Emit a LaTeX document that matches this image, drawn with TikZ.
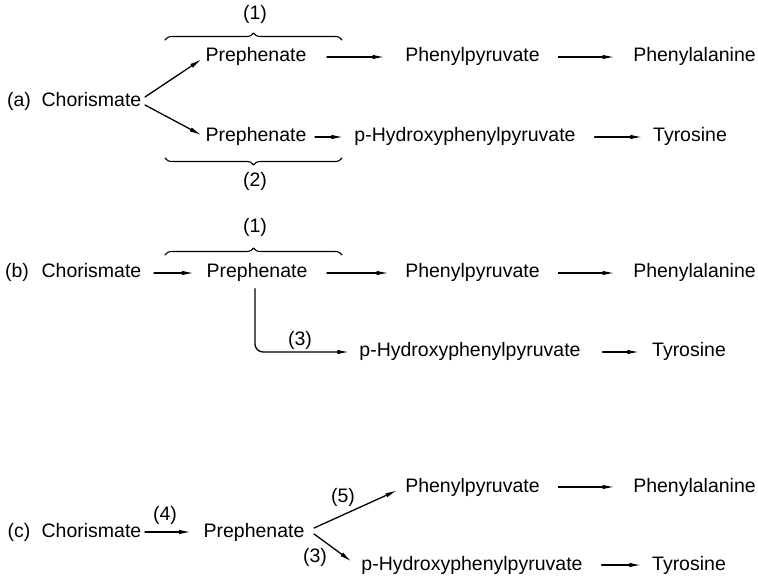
\documentclass[tikz,border=0pt]{standalone}
\usepackage{fontspec}
\setmainfont{Liberation Sans}
\usetikzlibrary{arrows.meta,decorations.pathreplacing}

\begin{document}
\begin{tikzpicture}[x=1pt,y=-1pt,>={Latex[length=12pt,width=4.5pt]},line join=round,line cap=round,line width=1.3pt,
	every node/.style={inner sep=0pt,text height=14pt,text depth=4pt,font=\fontsize{19.5}{23}\selectfont},
	chor/.style={minimum width=97pt},
	preph/.style={minimum width=98pt},
	ppyr/.style={minimum width=129pt},
	phe/.style={minimum width=113pt},
	hppyr/.style={minimum width=230pt},
	tyr/.style={minimum width=74pt},
	brc/.style={decorate,decoration={brace,amplitude=7pt},line width=1.1pt}]
	\useasboundingbox (0,0) rectangle (758,577);
	% (a)
	\node (la) at (19,102) {(a)};
	\node[chor] (ca) at (91.5,102) {Chorismate};
	\node[preph] (pa1) at (256,57) {Prephenate};
	\node[preph] (pa2) at (256,137) {Prephenate};
	\node[ppyr] (ppa) at (472.5,57) {Phenylpyruvate};
	\node[phe] (phea) at (694.5,57) {Phenylalanine};
	\node[hppyr] (hpa) at (465,137) {p-Hydroxyphenylpyruvate};
	\node[tyr] (tyra) at (690,137) {Tyrosine};
	\draw[->,shorten >=4pt] ([xshift=3pt,yshift=5pt]ca.east)--(pa1.west);
	\draw[->,shorten >=4pt] ([xshift=3pt,yshift=-3pt]ca.east)--(pa2.west);
	\draw[->,shorten <=20pt,shorten >=20pt] (pa1)--(ppa);
	\draw[->,shorten <=18pt,shorten >=18pt] (ppa)--(phea);
	\draw[->,shorten <=8pt,shorten >=6pt] (pa2)--(hpa);
	\draw[->,shorten <=14pt,shorten >=10pt] (hpa)--(tyra);
	\draw[brc] (165,40)--(342,40);
	\node (n1a) at (255,15) {(1)};
	\draw[brc] (342,158)--(165,158);
	\node (n2a) at (255,182) {(2)};
	% (b)
	\node (lb) at (17,273) {(b)};
	\node[chor] (cb) at (91.5,273) {Chorismate};
	\node[preph] (pb) at (257,273) {Prephenate};
	\node[ppyr] (ppb) at (472.5,273) {Phenylpyruvate};
	\node[phe] (pheb) at (694.5,273) {Phenylalanine};
	\node[hppyr] (hpb) at (470,352) {p-Hydroxyphenylpyruvate};
	\node[tyr] (tyrb) at (689,352) {Tyrosine};
	\draw[->,shorten <=12pt,shorten >=12pt] (cb)--(pb);
	\draw[->,shorten <=19pt,shorten >=16pt] (pb)--(ppb);
	\draw[->,shorten <=18pt,shorten >=18pt] (ppb)--(pheb);
	\draw[->,rounded corners=8pt,shorten <=6pt,shorten >=5pt] ([xshift=-2pt]pb.south)|-(hpb.west);
	\node (n3b) at (300,341) {(3)};
	\draw[->,shorten <=17pt,shorten >=12pt] (hpb)--(tyrb);
	\draw[brc] (165,255)--(342,255);
	\node (n1b) at (255,228) {(1)};
	% (c)
	\node (lc) at (19,532) {(c)};
	\node[chor] (cc) at (91.5,532) {Chorismate};
	\node[preph] (pc) at (254,532) {Prephenate};
	\node[ppyr] (ppc) at (472.5,487) {Phenylpyruvate};
	\node[phe] (phec) at (694.5,487) {Phenylalanine};
	\node[hppyr] (hpc) at (472,565) {p-Hydroxyphenylpyruvate};
	\node[tyr] (tyrc) at (689,565) {Tyrosine};
	\draw[->,shorten <=3pt,shorten >=12pt] (cc)--(pc);
	\node (n4c) at (165,515) {(4)};
	\draw[->,shorten >=8pt] ([xshift=9pt,yshift=4pt]pc.east)--(ppc.west);
	\node (n5c) at (343,497) {(5)};
	\draw[->,shorten >=6pt] ([xshift=9pt,yshift=-2pt]pc.east)--(hpc.west);
	\node (n3c) at (315,557) {(3)};
	\draw[->,shorten <=18pt,shorten >=18pt] (ppc)--(phec);
	\draw[->,shorten <=14pt,shorten >=10pt] (hpc)--(tyrc);
\end{tikzpicture}
\end{document}
